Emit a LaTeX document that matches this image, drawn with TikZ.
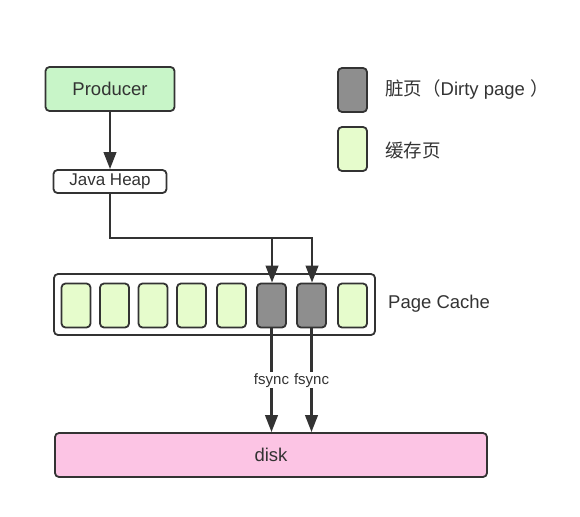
\documentclass[tikz,border=0pt]{standalone}
\usepackage{fontspec}
\setmainfont{Liberation Sans}
\newfontfamily\cjk{Noto Sans CJK SC}
\usepackage{tikz}
\usetikzlibrary{shapes,arrows.meta}
\definecolor{linegray}{HTML}{333333}
\definecolor{prodgreen}{HTML}{C8F5C8}
\definecolor{cachegreen}{HTML}{E6FCCC}
\definecolor{dirtygray}{HTML}{8E8E8E}
\definecolor{diskpink}{HTML}{FCC4E4}
\tikzset{
  box/.style={rectangle, draw=linegray, line width=1.8pt, rounded corners=4pt, inner sep=0pt},
  pagebox/.style={box, minimum width=29pt, minimum height=44pt},
  link/.style={->, draw=linegray, line width=2.4pt},
}
\newcommand{\procbox}[4][] {\node at (#2) (#3) [box, #1] {#4};}
\newcommand{\cleanpage}[2] {\node at (#1) (#2) [pagebox, fill=cachegreen] {};}
\newcommand{\dirtypage}[2] {\node at (#1) (#2) [pagebox, fill=dirtygray] {};}
\newcommand{\flushto}[2] {\draw [link] (#1) -- (#1 |- #2.north) node [midway, fill=white, inner sep=1pt, font=\fontsize{15}{18}\selectfont] {fsync};}

\begin{document}
\begin{tikzpicture}[x=1pt, y=-1pt, >={Triangle[length=17pt, width=12.5pt]},
  text=linegray, font=\fontsize{18.5}{22}\selectfont]
\useasboundingbox (0,0) rectangle (580,516);

\procbox [fill=prodgreen, minimum width=129pt, minimum height=44pt] {110,89}{producer}{Producer}
\procbox [minimum width=113pt, minimum height=23pt, font=\fontsize{17}{20}\selectfont] {110,181.5}{heap}{Java Heap}
\draw [link] (producer) -- (heap);

% page cache
\procbox [minimum width=321pt, minimum height=61pt] {214.5,304.5}{cache}{}
\node at (388,304) [anchor=west, inner sep=0pt] {Page Cache};
\cleanpage {76,305.5}{page1}
\cleanpage {114.5,305.5}{page2}
\cleanpage {153,305.5}{page3}
\cleanpage {191.5,305.5}{page4}
\cleanpage {231.5,305.5}{page5}
\dirtypage {271.5,305.5}{dirty1}
\dirtypage {311.5,305.5}{dirty2}
\cleanpage {352.5,305.5}{page8}

\coordinate (split1) at (272,238);
\coordinate (split2) at (312,238);
\draw [link, -] (heap) |- (split1);
\draw [link] (split1) -- (split2) -- (split2 |- dirty2.north);
\draw [link] (split1) -- (split1 |- dirty1.north);

% disk
\procbox [fill=diskpink, minimum width=432pt, minimum height=44pt] {271,455}{disk}{disk}
\flushto {dirty1.south}{disk}
\flushto {dirty2.south}{disk}

% legend
\dirtypage {352.5,90}{legendDirty}
\cleanpage {352.5,149}{legendClean}
\node at (385,90) [anchor=west, inner sep=0pt] {{\cjk 脏页（}Dirty page {\cjk ）}};
\node at (385,150) [anchor=west, inner sep=0pt] {\cjk 缓存页};

\end{tikzpicture}
\end{document}
